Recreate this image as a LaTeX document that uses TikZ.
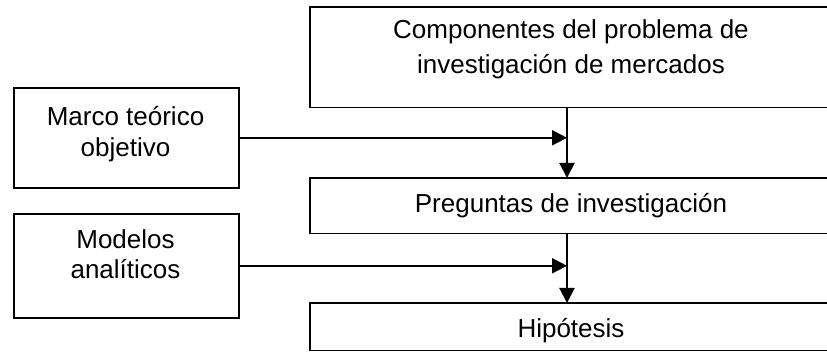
\documentclass[tikz,border=0pt]{standalone}
\usepackage{fontspec}
\setmainfont{Liberation Sans}
\usetikzlibrary{arrows.meta}
\tikzset{
  caja/.style={draw, line width=1.6pt, inner sep=0pt},
  ancha/.style={inner sep=0pt, minimum width=560pt},
  borde/.style={line width=1.6pt},
  texto/.style={align=center, inner sep=0pt, anchor=base},
  flecha/.style={line width=2pt, -{Triangle[length=15pt,width=15pt]}},
}
\begin{document}
\begin{tikzpicture}[x=1pt,y=-1pt]
    \useasboundingbox (0,0) rectangle (827,352);
    \clip (0,0) rectangle (827,352);

    \node[ancha,anchor=north west,minimum height=100pt] (comp) at (310,7) {};
    \node[caja,anchor=north west,minimum width=225pt,minimum height=100pt] (marco) at (13,87) {};
    \node[ancha,anchor=north west,minimum height=55pt] (preg) at (310,178) {};
    \node[caja,anchor=north west,minimum width=225pt,minimum height=104pt] (modelos) at (13,213) {};
    \node[ancha,anchor=north west,minimum height=47pt] (hip) at (310,303) {};
    \coordinate (eje) at (567,0);

    % the wide boxes run off the right edge
    \foreach \b in {comp,preg,hip}
        \draw[borde] (\b.north east) -- (\b.north west) -- (\b.south west) -- (\b.south east);

    % anchor=base is the last line
    \node[texto,font=\fontsize{26}{35}\selectfont] (compt) at (571,74) {Componentes del problema de\\investigación de mercados};
    \node[texto,font=\fontsize{26}{31}\selectfont] (marcot) at (125.5,157) {Marco teórico\\objetivo};
    \node[texto,font=\fontsize{26}{31}\selectfont] (pregt) at (571,213) {Preguntas de investigación};
    \node[texto,font=\fontsize{26}{30}\selectfont] (modelost) at (125.5,279) {Modelos\\analíticos};
    \node[texto,font=\fontsize{26}{31}\selectfont] (hipt) at (571,338) {Hipótesis};

    \draw[flecha] (eje |- comp.south) -- (eje |- preg.north);
    \draw[flecha] (eje |- preg.south) -- (eje |- hip.north);
    \draw[flecha] (marco.east) -- (eje |- marco.east);
    \draw[flecha] (modelos.east) -- (eje |- modelos.east);
\end{tikzpicture}
\end{document}
